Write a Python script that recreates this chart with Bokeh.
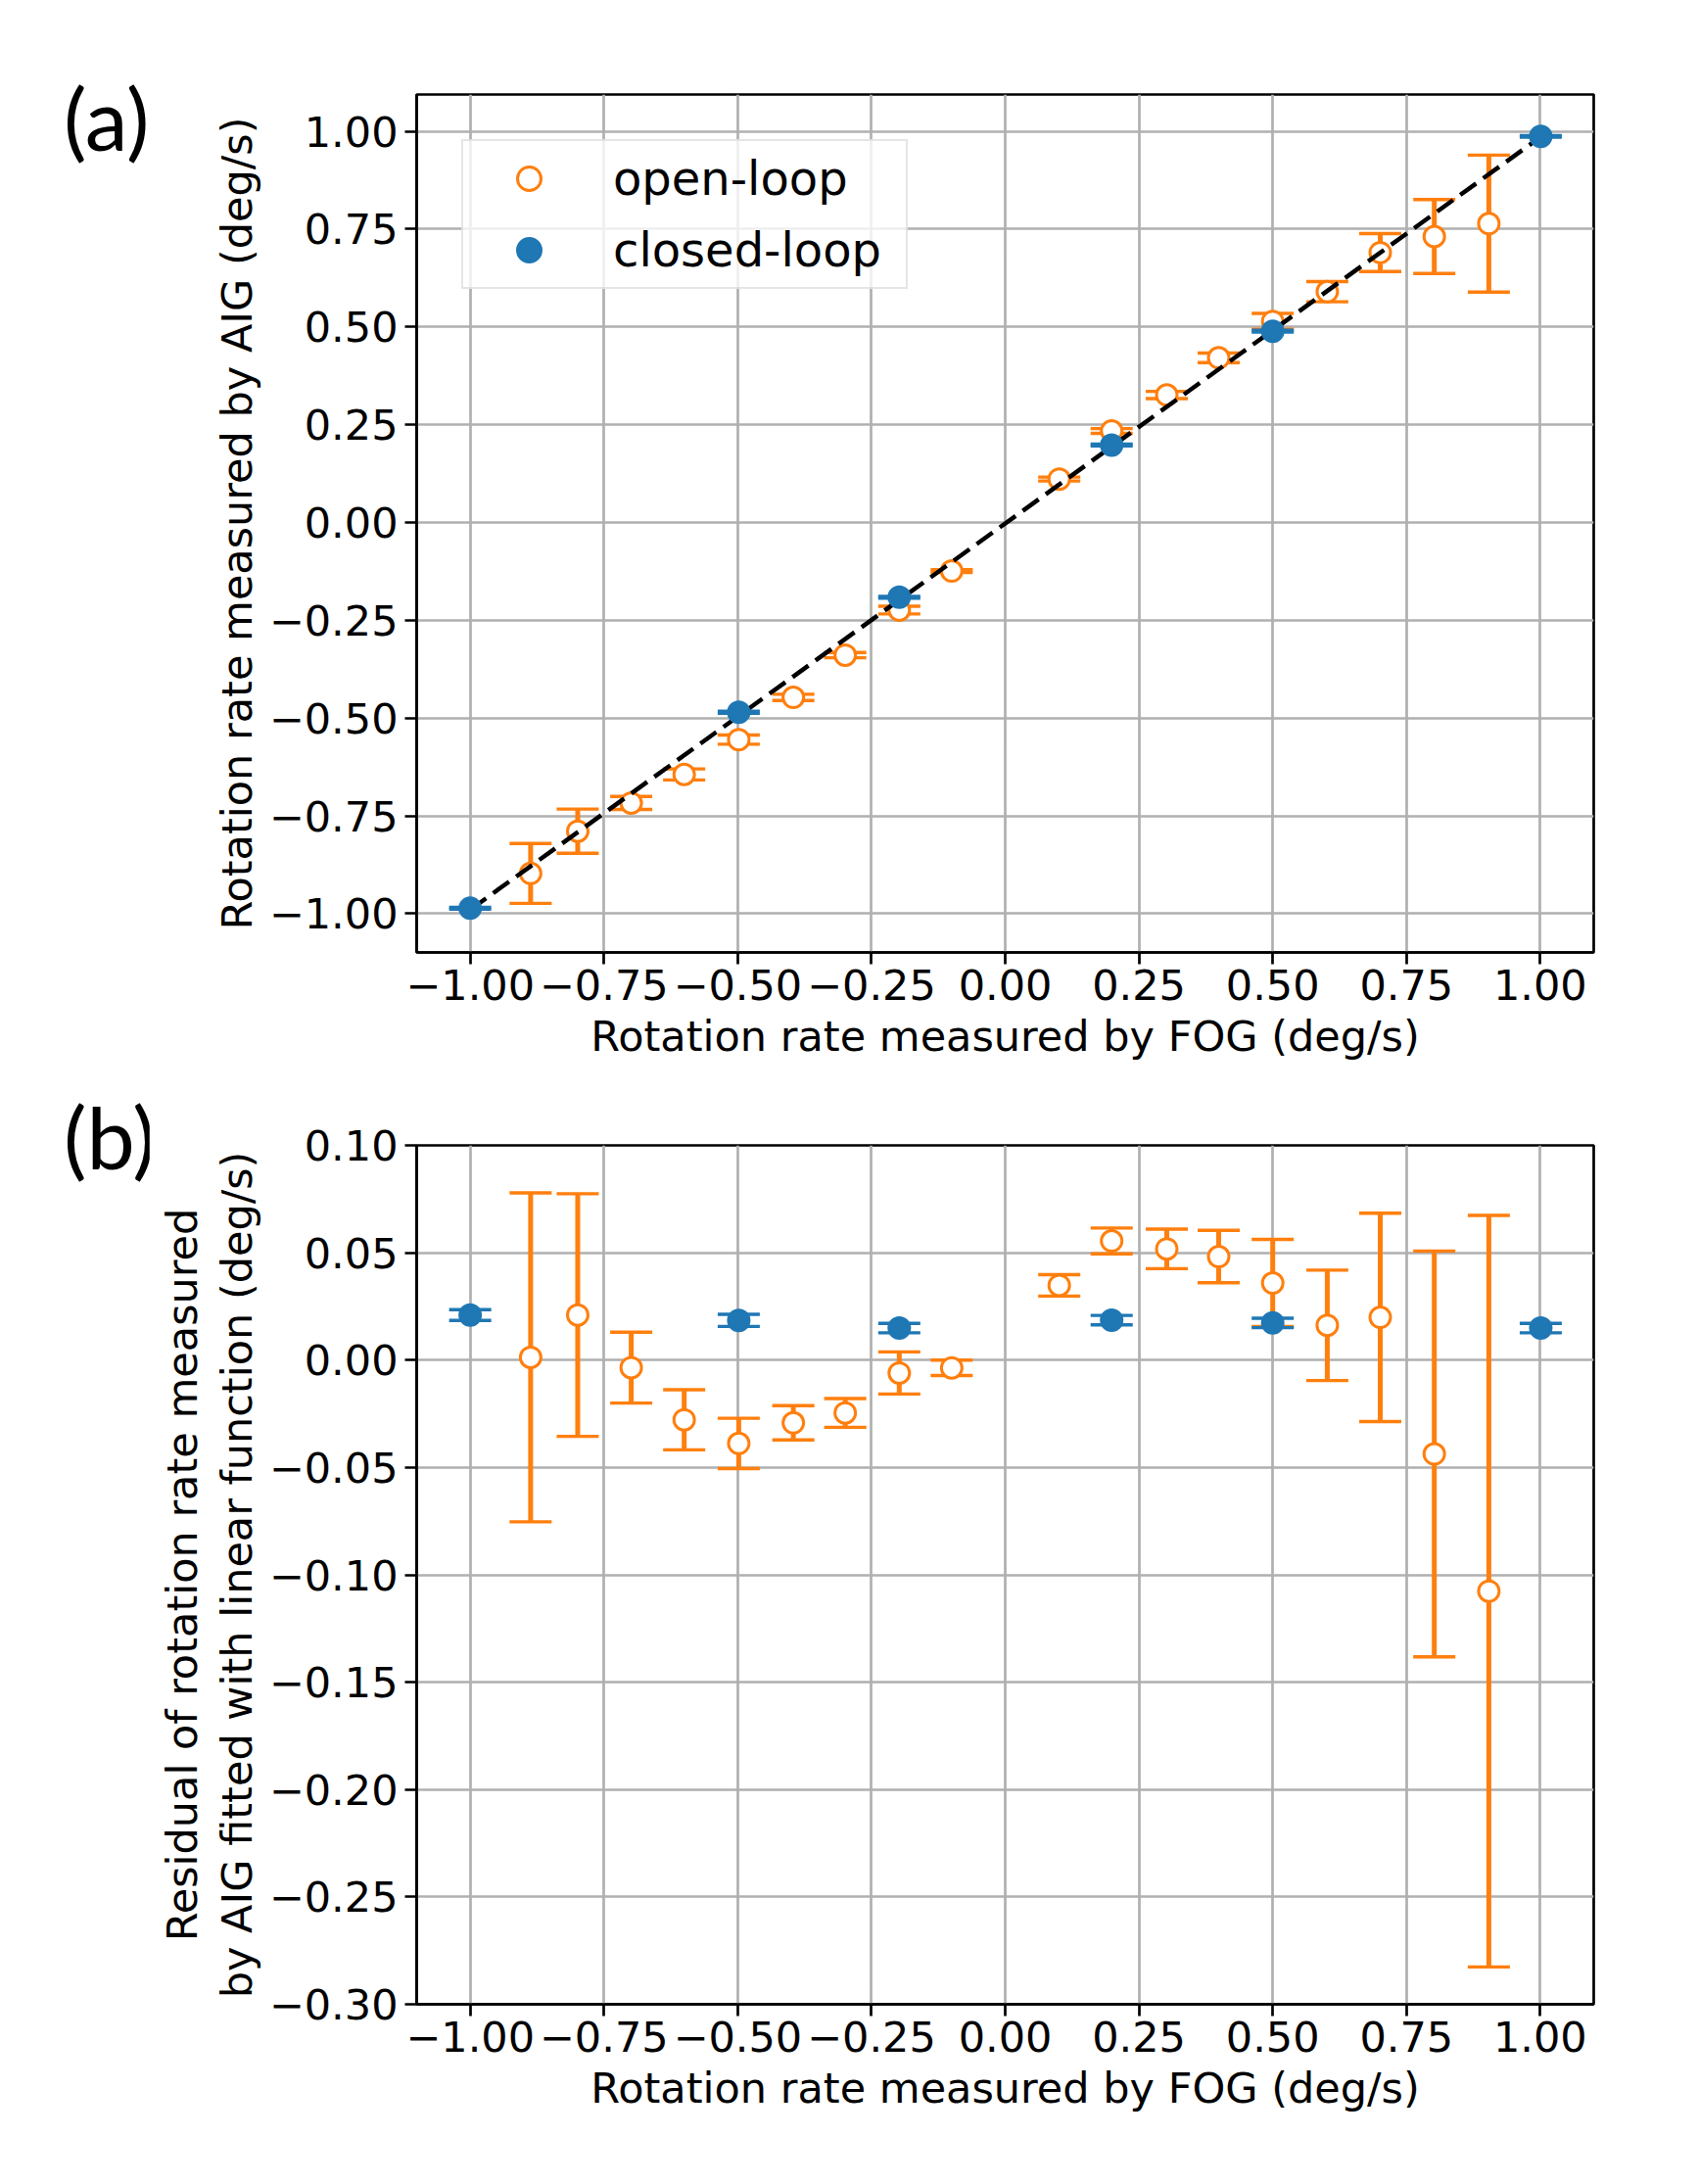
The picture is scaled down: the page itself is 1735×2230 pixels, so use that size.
from bokeh.plotting import figure
from bokeh.layouts import column, row
from bokeh.models import (ColumnDataSource, FixedTicker, Range1d, Legend, Div,
                          LegendItem, CustomJSTickFormatter)
from bokeh.embed import file_html
from bokeh.resources import INLINE

# ---------------- data ----------------
x_open = [-0.887, -0.799, -0.699, -0.600, -0.498, -0.396, -0.299, -0.198, -0.100,
          0.101, 0.199, 0.302, 0.399, 0.500, 0.602, 0.701, 0.802, 0.904]
y_open = [-0.897, -0.789, -0.717, -0.644, -0.555, -0.447, -0.339, -0.224, -0.124,
          0.111, 0.234, 0.326, 0.421, 0.514, 0.590, 0.690, 0.731, 0.764]
resid_open = [0.0013, 0.0210, -0.0035, -0.0278, -0.0388, -0.0292, -0.0246, -0.0060, -0.0036,
              0.0348, 0.0555, 0.0518, 0.0482, 0.0359, 0.0162, 0.0199, -0.0437, -0.1076]
err_open = [0.0766, 0.0565, 0.0165, 0.0140, 0.0117, 0.0080, 0.0067, 0.0098, 0.0036,
            0.0050, 0.0060, 0.0092, 0.0122, 0.0203, 0.0257, 0.0485, 0.0945, 0.1750]

x_closed = [-1.000, -0.498, -0.198, 0.199, 0.500, 1.001]
y_closed = [-0.986, -0.485, -0.191, 0.198, 0.489, 0.987]
resid_closed = [0.0210, 0.0185, 0.0149, 0.0186, 0.0173, 0.0149]
err_closed = [0.0025, 0.0028, 0.0022, 0.0022, 0.0022, 0.0022]

fit_x = [-1.0, 1.0]
fit_y = [-0.99, 0.985]

x_ticks = [-1.0, -0.75, -0.5, -0.25, 0.0, 0.25, 0.5, 0.75, 1.0]
y_ticks_a = [-1.0, -0.75, -0.5, -0.25, 0.0, 0.25, 0.5, 0.75, 1.0]
y_ticks_b = [-0.30, -0.25, -0.20, -0.15, -0.10, -0.05, 0.0, 0.05, 0.10]

x_label = "Rotation rate measured by FOG (deg/s)"
y_label_a = "Rotation rate measured by AIG (deg/s)"
y_label_b = "Residual of rotation rate measured\nby AIG fitted with linear function (deg/s)"
panel_tags = ["(a)", "(b)"]

ORANGE = "#ff7f0e"
BLUE = "#1f77b4"
FONT = "DejaVu Sans"

LW = 152                # width of the strip that carries the panel tag
H1 = 96 + 876 + 140     # canvas height of panel (a)
H2 = 57 + 877 + 140     # canvas height of panel (b)

fmt = CustomJSTickFormatter(code="return tick.toFixed(2).replace('-', '\u2212');")


def src(x, y, e):
    return ColumnDataSource(dict(x=x, y=y,
                                 upper=[a + b for a, b in zip(y, e)],
                                 lower=[a - b for a, b in zip(y, e)]))


def errorbars(p, s, color, filled):
    p.segment(x0="x", y0="lower", x1="x", y1="upper", source=s,
              line_color=color, line_width=5)
    p.scatter(x="x", y="upper", source=s, marker="dash", size=43,
              line_color=color, line_width=3.4)
    p.scatter(x="x", y="lower", source=s, marker="dash", size=43,
              line_color=color, line_width=3.4)
    r = p.scatter(x="x", y="y", source=s, marker="circle", size=21,
                  fill_color=color if filled else "white",
                  line_color=color, line_width=3)
    return r


def style(p, yticks):
    p.background_fill_color = "white"
    p.border_fill_color = "white"
    p.outline_line_color = "black"
    p.outline_line_width = 2.7
    p.outline_line_alpha = 1.0
    p.xaxis.ticker = FixedTicker(ticks=x_ticks)
    p.yaxis.ticker = FixedTicker(ticks=yticks)
    for ax in p.axis:
        ax.formatter = fmt
        ax.axis_line_width = 2.7
        ax.axis_line_color = "black"
        ax.major_tick_line_width = 2.7
        ax.major_tick_line_color = "black"
        ax.major_tick_out = 12
        ax.major_tick_in = 0
        ax.minor_tick_line_color = None
        ax.major_label_text_font = FONT
        ax.major_label_text_font_size = "43px"
        ax.major_label_text_color = "black"
        ax.axis_label_text_font = FONT
        ax.axis_label_text_font_size = "43px"
        ax.axis_label_text_font_style = "normal"
        ax.axis_label_text_color = "black"
        ax.axis_label_text_line_height = 1.12
    p.xaxis.major_label_standoff = 5
    p.yaxis.major_label_standoff = 7
    p.xaxis.axis_label_standoff = 9
    p.yaxis.axis_label_standoff = 5
    p.grid.grid_line_color = "#b0b0b0"
    p.grid.grid_line_width = 2.7


def tag_div(text, height, top):
    html = ('<div style="position:relative; left:65px; top:%dpx; margin:0; padding:0; '
            'font-family:Lato, Carlito, sans-serif; font-size:88px; line-height:88px; '
            'color:black; white-space:nowrap;">%s</div>' % (top, text))
    return Div(text=html, width=LW, height=height, margin=0)


# ---------------- panel (a) ----------------
p1 = figure(frame_width=1202, frame_height=876, output_backend="svg",
            toolbar_location=None, min_border_left=425 - LW, min_border_top=96,
            min_border_bottom=140, min_border_right=60,
            x_range=Range1d(-1.1, 1.1), y_range=Range1d(-1.099, 1.094))
style(p1, y_ticks_a)
p1.xaxis.axis_label = x_label
p1.yaxis.axis_label = y_label_a

s_open_a = src(x_open, y_open, err_open)
s_closed_a = src(x_closed, y_closed, err_closed)
r_open = errorbars(p1, s_open_a, ORANGE, False)
p1.line(fit_x, fit_y, line_color="black", line_width=4.5, line_dash="20 9")
r_closed = errorbars(p1, s_closed_a, BLUE, True)

legend = Legend(items=[LegendItem(label="open-loop", renderers=[r_open]),
                       LegendItem(label="closed-loop", renderers=[r_closed])],
                location="top_left", margin=46, padding=8, spacing=13,
                glyph_width=118, glyph_height=60, label_standoff=27,
                label_width=291, label_text_font=FONT, label_text_font_size="48px",
                label_text_baseline="middle", label_text_color="black",
                border_line_color="#cccccc", border_line_width=2.5,
                background_fill_alpha=0.8)
p1.add_layout(legend)

# ---------------- panel (b) ----------------
p2 = figure(frame_width=1202, frame_height=877, output_backend="svg",
            toolbar_location=None, min_border_left=425 - LW, min_border_top=57,
            min_border_bottom=140, min_border_right=60,
            x_range=Range1d(-1.1, 1.1), y_range=Range1d(-0.30, 0.10))
style(p2, y_ticks_b)
p2.xaxis.axis_label = x_label
p2.yaxis.axis_label = y_label_b

s_open_b = src(x_open, resid_open, err_open)
s_closed_b = src(x_closed, resid_closed, err_closed)
errorbars(p2, s_open_b, ORANGE, False)
errorbars(p2, s_closed_b, BLUE, True)

da = tag_div(panel_tags[0], H1, 76)
db = tag_div(panel_tags[1], H2, 4)

layout = column(row(da, p1), row(db, p2))
open("out.html", "w").write(file_html(layout, INLINE))
